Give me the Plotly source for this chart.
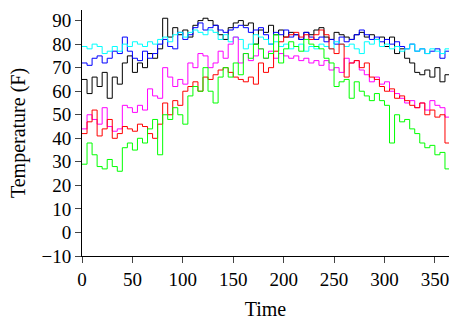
import plotly.graph_objects as go

days = list(range(0, 366, 5))

black = [65, 59, 66, 62, 68, 57, 66, 63, 72, 75, 68, 72, 70, 76, 74, 78, 91, 83, 87, 84,
         86, 83, 88, 90, 91, 90, 88, 84, 82, 87, 89, 90, 88, 89, 80, 86, 85, 88, 84, 86,
         83, 85, 84, 82, 85, 84, 86, 87, 83, 82, 85, 84, 83, 82, 84, 85, 83, 84, 82, 83,
         79, 83, 76, 78, 74, 72, 68, 67, 69, 66, 70, 64, 67, 62]
blue = [72, 71, 74, 75, 72, 74, 77, 76, 83, 77, 74, 73, 77, 74, 76, 80, 82, 79, 78, 85,
        82, 84, 87, 89, 86, 87, 88, 86, 85, 86, 87, 88, 87, 85, 86, 87, 84, 80, 85, 84,
        86, 83, 84, 82, 85, 83, 82, 83, 81, 82, 80, 83, 81, 82, 84, 86, 84, 82, 83, 81,
        82, 80, 81, 79, 78, 80, 77, 78, 76, 77, 78, 74, 77, 75]
cyan = [79, 78, 80, 79, 76, 77, 79, 77, 80, 79, 81, 80, 79, 81, 80, 82, 83, 81, 84, 85,
        83, 85, 86, 85, 84, 86, 85, 82, 84, 81, 83, 82, 78, 80, 84, 83, 82, 80, 81, 79,
        80, 78, 79, 80, 77, 79, 78, 80, 79, 78, 81, 80, 79, 80, 78, 76, 81, 80, 82, 79,
        80, 78, 79, 77, 78, 80, 77, 78, 76, 78, 77, 76, 78, 75]
magenta = [44, 50, 48, 46, 53, 45, 43, 44, 54, 53, 51, 54, 52, 61, 58, 57, 70, 66, 62, 65,
           63, 72, 70, 76, 75, 70, 72, 77, 74, 80, 83, 72, 76, 73, 75, 78, 74, 77, 74, 76,
           75, 74, 75, 73, 74, 72, 73, 71, 73, 69, 70, 68, 74, 72, 73, 69, 67, 64, 66, 63,
           64, 60, 59, 57, 55, 56, 53, 55, 52, 56, 54, 53, 49, 48]
red = [42, 47, 52, 41, 44, 48, 40, 42, 45, 44, 43, 46, 45, 42, 40, 46, 55, 50, 56, 54,
       60, 62, 64, 60, 66, 65, 67, 69, 70, 68, 66, 65, 64, 66, 63, 72, 68, 70, 77, 81,
       83, 84, 85, 83, 84, 82, 84, 86, 84, 78, 76, 80, 66, 72, 73, 70, 72, 66, 65, 62,
       60, 61, 57, 58, 56, 54, 53, 55, 50, 52, 49, 50, 38, 42]
green = [29, 38, 33, 28, 27, 31, 28, 26, 36, 38, 35, 40, 38, 44, 48, 33, 50, 48, 53, 50,
         46, 58, 62, 60, 70, 60, 55, 66, 70, 66, 72, 67, 76, 74, 80, 78, 74, 76, 84, 72,
         78, 81, 79, 77, 82, 80, 79, 78, 74, 72, 62, 64, 65, 57, 64, 60, 58, 56, 59, 56,
         54, 38, 50, 47, 48, 44, 42, 38, 36, 37, 33, 34, 27, 28]

series = [("black", black, "#000000"), ("blue", blue, "#0000ff"), ("cyan", cyan, "#00ffff"),
          ("magenta", magenta, "#ff00ff"), ("red", red, "#ff0000"), ("green", green, "#00ff00")]

xticks = [0, 50, 100, 150, 200, 250, 300, 350]
yticks = list(range(-10, 91, 10))
ytext = ["\u221210"] + [str(v) for v in yticks[1:]]

fig = go.Figure()
for name, vals, col in series:
    fig.add_trace(go.Scatter(x=days, y=vals, mode="lines", name=name,
                             line=dict(color=col, width=1, shape="hv")))

font = dict(family="Liberation Serif", size=19, color="#000000")
tfont = dict(family="Liberation Serif", size=20, color="#000000")
fig.update_layout(
    width=449, height=320,
    margin=dict(l=82, r=0, t=10, b=64),
    paper_bgcolor="white", plot_bgcolor="white",
    showlegend=False, font=font,
)
fig.update_xaxes(range=[0, 364], tickvals=xticks, ticks="outside", ticklen=6,
                 showline=True, linecolor="black", linewidth=1, showgrid=False,
                 zeroline=False, automargin=False, ticklabeloverflow="allow",
                 title=dict(text="Time", font=tfont, standoff=20))
fig.update_yaxes(range=[-10, 94.5], tickvals=yticks, ticktext=ytext, ticks="outside",
                 ticklen=6, showline=True, linecolor="black", linewidth=1,
                 showgrid=False, zeroline=False, automargin=False,
                 title=dict(text="Temperature (F)", font=tfont, standoff=10))
fig.write_html("out.html", config={"displayModeBar": False},
               post_script="document.body.style.margin='0';document.body.style.overflow='hidden';")
